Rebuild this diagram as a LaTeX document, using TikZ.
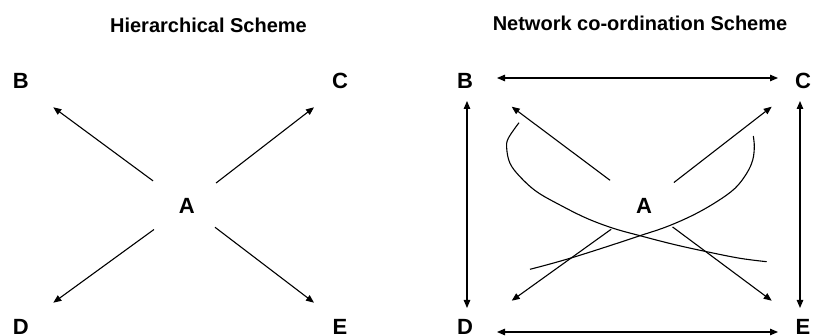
\documentclass[tikz,border=0pt]{standalone}
\usepackage{fontspec}
\setmainfont{Liberation Sans}
\usetikzlibrary{arrows.meta}
\begin{document}
\begin{tikzpicture}[x=1pt,y=-1pt,
  lbl/.style={inner sep=0pt,font=\bfseries\fontsize{22}{26}\selectfont},
  ttl/.style={inner sep=0pt,font=\bfseries\fontsize{20}{24}\selectfont},
  arr/.style={line width=1.1pt,-{Triangle[length=8pt,width=6.5pt]}},
  darr/.style={line width=1.1pt,{Triangle[length=8pt,width=6.5pt]}-{Triangle[length=8pt,width=6.5pt]}},
  crv/.style={line width=1.1pt}]
\useasboundingbox (0,0) rectangle (813,336);
% ---------- left: hierarchical ----------
\node[ttl] (T1) at (208.5,25.5) {Hierarchical Scheme};
\node[lbl] (B1) at (20.7,81) {B};
\node[lbl] (C1) at (340,81) {C};
\node[lbl] (A1) at (186.7,205.7) {A};
\node[lbl] (D1) at (20.7,327) {D};
\node[lbl] (E1) at (340,327) {E};
\coordinate (tB1) at (53.3,107.3);
\coordinate (tC1) at (314,107.3);
\coordinate (tD1) at (53.3,302.7);
\coordinate (tE1) at (314,302.7);
\draw[arr,shorten <=41.8pt] (A1.center) -- (tB1);
\draw[arr,shorten <=37.1pt] (A1.center) -- (tC1);
\draw[arr,shorten <=40.5pt] (A1.center) -- (tD1);
\draw[arr,shorten <=35.6pt] (A1.center) -- (tE1);
% ---------- right: network ----------
\node[ttl] (T2) at (640,23.3) {Network co-ordination Scheme};
\node[lbl] (B2) at (465,81) {B};
\node[lbl] (C2) at (803,81) {C};
\node[lbl] (A2) at (644,205.7) {A};
\node[lbl] (D2) at (465,327) {D};
\node[lbl] (E2) at (803,327) {E};
\coordinate (tB2) at (511.7,106.7);
\coordinate (tC2) at (771.7,106.7);
\coordinate (tD2) at (511.7,300.7);
\coordinate (tE2) at (771.7,300.7);
\draw[arr,shorten <=42.4pt] (A2.center) -- (tB2);
\draw[arr,shorten <=37.8pt] (A2.center) -- (tC2);
\draw[arr,shorten <=40.4pt] (A2.center) -- (tD2);
\draw[arr,shorten <=35.6pt] (A2.center) -- (tE2);
\draw[darr,shorten <=32pt,shorten >=25pt] ([yshift=3pt]B2.center) -- ([yshift=3pt]C2.center);
\draw[darr,shorten <=32pt,shorten >=25pt] ([yshift=-5pt]D2.center) -- ([yshift=-5pt]E2.center);
\draw[darr,shorten <=20pt,shorten >=19pt] ([xshift=2pt]B2.center) -- ([xshift=2pt]D2.center);
\draw[darr,shorten <=20pt,shorten >=19pt] ([xshift=-3pt]C2.center) -- ([xshift=-3pt]E2.center);
% crossing curves
\draw[crv] plot[smooth,tension=0.6] coordinates {(519,122.7) (508.3,138.3) (506.7,148.3) (510,163.3) (520,176.7) (536.7,191.7) (560,205) (586.7,218.3) (613.3,228.3) (640,235.7) (673.3,244.3) (706.7,251.7) (740,258.3) (766.7,261.7)};
\draw[crv] plot[smooth,tension=0.6] coordinates {(753.3,136) (754.3,146.7) (752.7,160) (746.7,173.3) (735,188.3) (716.7,201.7) (693.3,215) (666.7,226.7) (640,235.7) (606.7,246.7) (573.3,257.3) (550,264) (530,269.3)};
\end{tikzpicture}
\end{document}
